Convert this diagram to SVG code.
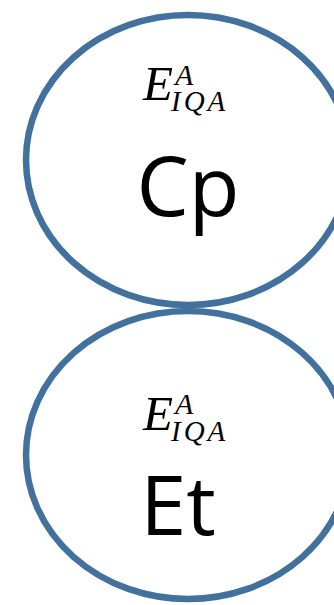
<svg xmlns="http://www.w3.org/2000/svg" width="334" height="605" viewBox="0 0 334 605">
<style>
.node{fill:#ffffff;stroke:#41719C;stroke-width:6.5}
.big{font-family:"Open Sans","Noto Sans",sans-serif;font-size:83px;fill:#000;text-anchor:middle}
.m{font-family:"Liberation Serif","DejaVu Serif",serif;font-style:italic;fill:#000}
.mE{font-size:49px}
.sup{font-size:30px}
.sub{font-size:29px;letter-spacing:3px}
</style>
<g id="connectors"/>
<g id="node-cp">
<ellipse class="node" cx="188" cy="160" rx="162" ry="145"/>
<text class="m"><tspan class="mE" x="143" y="100">E</tspan><tspan class="sup" x="175" y="85">A</tspan><tspan class="sub" x="171" y="111">IQA</tspan></text>
<text class="big" x="188" y="216">Cp</text>
</g>
<g id="node-et">
<ellipse class="node" cx="188" cy="455" rx="162" ry="144"/>
<text class="m"><tspan class="mE" x="143" y="430">E</tspan><tspan class="sup" x="175" y="414">A</tspan><tspan class="sub" x="171" y="441">IQA</tspan></text>
<text class="big" x="178" y="535">Et</text>
</g>
</svg>
